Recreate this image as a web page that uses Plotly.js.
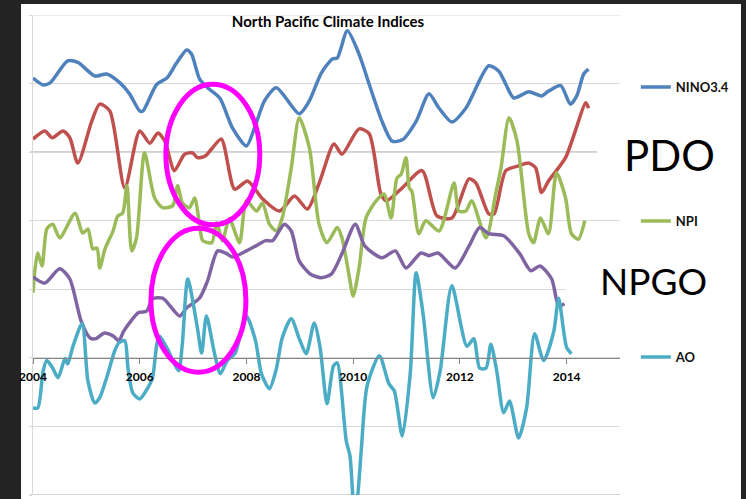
<!DOCTYPE html>
<html><head><meta charset="utf-8">
<script src="https://cdn.plot.ly/plotly-3.0.1.min.js"></script>
<style>html,body{margin:0;padding:0;background:#242424;}#chart{width:746px;height:499px;}</style>
</head><body><div id="chart"></div>
<script>
const seriesNames = ['NINO3.4', 'PDO', 'NPI', 'NPGO', 'AO'];
const seriesOffsets = [4, 3, 2, 1, 0];

const ninoYears = [2004.00,2004.19,2004.32,2004.65,2004.84,2005.16,2005.38,2005.63,2005.81,2006.00,2006.06,2006.32,2006.51,2006.69,2006.88,2006.97,2007.12,2007.27,2007.50,2007.74,2008.00,2008.15,2008.34,2008.56,2008.99,2009.18,2009.40,2009.61,2009.70,2009.89,2010.11,2010.30,2010.54,2010.73,2010.92,2011.18,2011.42,2011.61,2011.85,2012.11,2012.54,2012.73,2012.86,2013.01,2013.29,2013.53,2013.66,2013.89,2014.07,2014.19,2014.32,2014.41];
const ninoValues = [0.08,-0.02,0.01,0.33,0.31,0.11,0.14,0.01,-0.15,-0.40,-0.40,-0.01,0.08,0.30,0.49,0.43,0.07,-0.06,-0.21,-0.65,-0.91,-0.65,-0.25,-0.06,-0.44,-0.25,0.15,0.36,0.37,0.77,0.43,-0.01,-0.55,-0.84,-0.82,-0.55,-0.15,-0.36,-0.56,-0.36,0.26,0.18,-0.01,-0.21,-0.12,-0.18,-0.11,-0.03,-0.30,-0.18,0.14,0.21];

const pdoYears = [2004.00,2004.22,2004.36,2004.56,2004.69,2004.84,2005.10,2005.25,2005.44,2005.72,2006.00,2006.19,2006.34,2006.47,2006.65,2006.84,2006.99,2007.08,2007.22,2007.35,2007.53,2007.78,2008.02,2008.30,2008.62,2008.90,2009.14,2009.36,2009.64,2009.79,2010.11,2010.30,2010.52,2010.62,2010.92,2011.29,2011.57,2011.85,2012.17,2012.30,2012.54,2012.64,2012.86,2013.10,2013.29,2013.42,2013.53,2013.66,2013.98,2014.36,2014.41];
const pdoValues = [0.19,0.31,0.21,0.31,0.21,-0.16,0.45,0.70,0.60,-0.52,0.31,0.13,0.28,0.16,-0.27,-0.03,-0.01,-0.08,-0.06,0.05,0.19,-0.54,-0.42,-0.68,-0.86,-0.64,-0.83,-0.46,0.12,-0.03,0.34,0.27,-0.61,-0.71,-0.52,-0.27,-0.93,-0.96,-0.39,-0.45,-0.90,-0.90,-0.27,-0.20,-0.16,-0.23,-0.59,-0.42,-0.08,0.72,0.64];

const npiYears = [2004.00,2004.04,2004.09,2004.17,2004.26,2004.37,2004.50,2004.79,2004.93,2005.03,2005.12,2005.20,2005.25,2005.35,2005.50,2005.59,2005.68,2005.76,2005.85,2005.94,2006.09,2006.28,2006.43,2006.62,2006.71,2006.80,2006.93,2007.03,2007.12,2007.18,2007.35,2007.44,2007.55,2007.68,2007.87,2008.00,2008.19,2008.30,2008.43,2008.56,2008.67,2008.84,2008.99,2009.18,2009.36,2009.51,2009.70,2009.79,2009.93,2010.00,2010.11,2010.24,2010.43,2010.58,2010.71,2010.82,2010.90,2010.99,2011.05,2011.10,2011.23,2011.36,2011.61,2011.89,2011.98,2012.11,2012.22,2012.49,2012.67,2012.77,2012.92,2013.07,2013.29,2013.38,2013.51,2013.66,2013.81,2013.98,2014.09,2014.22,2014.34];
const npiValues = [-1.05,-0.69,-0.47,-0.66,-0.12,-0.05,-0.25,0.11,-0.18,-0.12,-0.41,-0.40,-0.69,-0.41,-0.15,0.07,0.11,0.51,-0.44,-0.25,0.99,0.33,0.19,0.22,0.51,0.26,0.19,0.33,-0.05,-0.29,-0.32,-0.03,-0.29,0.03,-0.32,0.29,0.14,0.26,-0.05,-0.15,0.04,0.77,1.50,1.06,-0.05,-0.32,-0.10,-0.25,-0.83,-1.10,-0.69,0.04,0.29,0.39,0.04,0.62,0.68,0.92,0.48,0.43,-0.19,0.00,-0.15,0.55,0.14,0.14,0.29,-0.25,0.39,0.77,1.50,1.16,-0.19,-0.32,0.04,-0.19,0.70,0.33,-0.19,-0.27,0.00];

const npgoYears = [2004.00,2004.22,2004.50,2004.69,2004.90,2005.07,2005.18,2005.33,2005.50,2005.61,2005.70,2005.98,2006.13,2006.24,2006.43,2006.75,2006.88,2007.12,2007.27,2007.46,2007.63,2007.74,2008.00,2008.17,2008.36,2008.49,2008.71,2008.84,2008.99,2009.20,2009.40,2009.59,2009.79,2010.04,2010.22,2010.54,2010.79,2010.99,2011.27,2011.42,2011.59,2011.91,2012.17,2012.37,2012.54,2012.82,2013.12,2013.33,2013.50,2013.72,2013.85,2013.96];
const npgoValues = [0.18,0.09,0.30,0.15,-0.46,-0.71,-0.72,-0.64,-0.68,-0.75,-0.61,-0.34,-0.32,-0.14,-0.13,-0.39,-0.27,-0.13,0.12,0.56,0.52,0.47,0.56,0.63,0.71,0.71,0.95,0.85,0.41,0.22,0.17,0.22,0.52,0.95,0.63,0.46,0.56,0.31,0.53,0.49,0.53,0.31,0.63,0.90,0.81,0.78,0.52,0.27,0.34,0.15,-0.24,-0.21];

const aoYears = [2004.00,2004.09,2004.19,2004.26,2004.37,2004.47,2004.60,2004.65,2004.75,2004.92,2005.03,2005.16,2005.25,2005.38,2005.53,2005.61,2005.72,2005.78,2005.87,2006.00,2006.15,2006.24,2006.32,2006.37,2006.52,2006.62,2006.73,2006.80,2006.90,2007.08,2007.16,2007.25,2007.40,2007.51,2007.64,2007.79,2007.89,2008.00,2008.17,2008.28,2008.43,2008.56,2008.67,2008.84,2008.99,2009.12,2009.27,2009.38,2009.51,2009.63,2009.70,2009.87,2009.94,2010.02,2010.07,2010.15,2010.26,2010.49,2010.67,2010.77,2010.92,2011.07,2011.18,2011.31,2011.50,2011.63,2011.85,2012.13,2012.26,2012.37,2012.49,2012.58,2012.69,2012.82,2012.93,2013.10,2013.25,2013.40,2013.57,2013.76,2013.85,2014.00,2014.09];
const aoValues = [-0.73,-0.73,-0.19,-0.04,-0.15,-0.29,-0.01,-0.09,0.17,0.50,-0.34,-0.66,-0.58,-0.29,0.10,0.22,0.25,-0.15,-0.51,-0.60,-0.44,-0.29,0.20,0.32,0.13,-0.04,-0.19,0.22,1.15,0.44,0.07,0.61,0.07,-0.23,-0.04,0.07,0.35,0.61,0.25,-0.23,-0.45,-0.16,0.29,0.57,0.28,0.06,0.51,0.15,-0.67,-0.12,-0.07,-1.21,-1.43,-2.16,-2.08,-1.36,-0.41,0.03,-0.38,-0.48,-1.14,-0.22,1.24,0.64,-0.58,-0.19,1.05,0.17,0.28,-0.15,-0.15,0.20,-0.19,-0.80,-0.63,-1.17,-0.73,0.35,-0.04,0.39,0.87,0.15,0.06];

const tickYears = [2004, 2006, 2008, 2010, 2012, 2014];
const tickLabels = ['2004', '2006', '2008', '2010', '2012', '2014'];

const seriesYears = [ninoYears, pdoYears, npiYears, npgoYears, aoYears];
const seriesValues = [ninoValues, pdoValues, npiValues, npgoValues, aoValues];
const seriesColors = ['#4F81BD', '#C0504D', '#9BBB59', '#8064A2', '#4BACC6'];
const seriesLegend = ['legend', null, 'legend2', null, 'legend3'];

const traces = seriesNames.map((name, i) => {
  const t = {
    type: 'scatter', mode: 'lines', name: name,
    x: seriesYears[i],
    y: seriesValues[i].map(v => v + seriesOffsets[i]),
    line: {color: seriesColors[i], width: 3.5, shape: 'spline', smoothing: 0.7},
    showlegend: seriesLegend[i] !== null
  };
  if (seriesLegend[i]) t.legend = seriesLegend[i];
  return t;
});

const legendFont = {family: 'Lato, "Open Sans", sans-serif', size: 13, color: '#111', weight: 'bold'};
const legendBase = {xanchor: 'left', yanchor: 'middle', bgcolor: 'rgba(0,0,0,0)', borderwidth: 0, font: legendFont, itemclick: false};

const layout = {
  width: 746, height: 499,
  margin: {l: 33, r: 126, t: 15, b: 4, pad: 0},
  paper_bgcolor: '#242424', plot_bgcolor: '#ffffff',
  font: {family: 'Lato, "Open Sans", sans-serif', color: '#000'},
  title: {text: '<b>North Pacific Climate Indices</b>', x: 0.5026, xref: 'paper', xanchor: 'center',
          y: 1 - 22 / 499, yref: 'container', yanchor: 'middle',
          font: {family: 'Lato, "Open Sans", sans-serif', size: 15, color: '#000'}},
  xaxis: {range: [2004, 2015], tickvals: tickYears, ticktext: tickLabels, anchor: 'free', position: 2 / 7,
          showline: true, linecolor: '#868686', linewidth: 1, ticks: 'outside', ticklen: 5, tickcolor: '#868686',
          showgrid: false, zeroline: false, ticklabelstandoff: 3,
          tickfont: {family: 'Lato, "Open Sans", sans-serif', size: 12, color: '#000', weight: 'bold'}},
  yaxis: {range: [-2, 5], tick0: 0, dtick: 1, showticklabels: false, showgrid: true, gridcolor: '#D9D9D9', gridwidth: 1,
          zeroline: false, showline: true, linecolor: '#D9D9D9', ticks: 'outside', ticklen: 3, tickcolor: '#D9D9D9'},
  legend: Object.assign({x: 1.027, y: 0.85}, legendBase),
  legend2: Object.assign({x: 1.027, y: 0.5708}, legendBase),
  legend3: Object.assign({x: 1.027, y: 0.2875}, legendBase),
  shapes: [
    {type: 'rect', xref: 'paper', yref: 'paper', x0: -0.0204, x1: 1.2061, y0: -0.03, y1: 1.0229,
     fillcolor: '#ffffff', line: {width: 0}, layer: 'below'},
    {type: 'line', xref: 'paper', yref: 'y', x0: -0.005, x1: 0.961, y0: 3, y1: 3, line: {color: '#808080', width: 1}, layer: 'below'},
    {type: 'line', xref: 'paper', yref: 'y', x0: -0.005, x1: 1, y0: -2, y1: -2, line: {color: '#A6A6A6', width: 1}, layer: 'below'},
    {type: 'line', xref: 'paper', yref: 'y', x0: -0.005, x1: 1, y0: 5, y1: 5, line: {color: '#D9D9D9', width: 1}, layer: 'below'},
    {type: 'rect', xref: 'paper', yref: 'paper', x0: 0.9608, x1: 1.179, y0: 0.6396, y1: 0.7708,
     fillcolor: '#ffffff', line: {width: 0}, layer: 'above'},
    {type: 'rect', xref: 'paper', yref: 'paper', x0: 0.908, x1: 1.17, y0: 0.396, y1: 0.5,
     fillcolor: '#ffffff', line: {width: 0}, layer: 'above'},
    {type: 'circle', xref: 'x', yref: 'y', x0: 2006.49, x1: 2008.25, y0: 1.94, y1: 3.99,
     line: {color: '#FF00FF', width: 5}, layer: 'above'},
    {type: 'circle', xref: 'x', yref: 'y', x0: 2006.21, x1: 2007.99, y0: -0.21, y1: 1.89,
     line: {color: '#FF00FF', width: 5}, layer: 'above'}
  ],
  annotations: [
    {text: 'PDO', xref: 'paper', yref: 'paper', x: 1.0835, y: 0.7083, xanchor: 'center', yanchor: 'middle',
     showarrow: false, font: {family: 'Lato, "Open Sans", sans-serif', size: 42, color: '#000'}},
    {text: 'NPGO', xref: 'paper', yref: 'paper', x: 1.0579, y: 0.4479, xanchor: 'center', yanchor: 'middle',
     showarrow: false, font: {family: 'Lato, "Open Sans", sans-serif', size: 37, color: '#000'}}
  ]
};

Plotly.newPlot('chart', traces, layout, {staticPlot: true, displayModeBar: false});
</script>
</body></html>
